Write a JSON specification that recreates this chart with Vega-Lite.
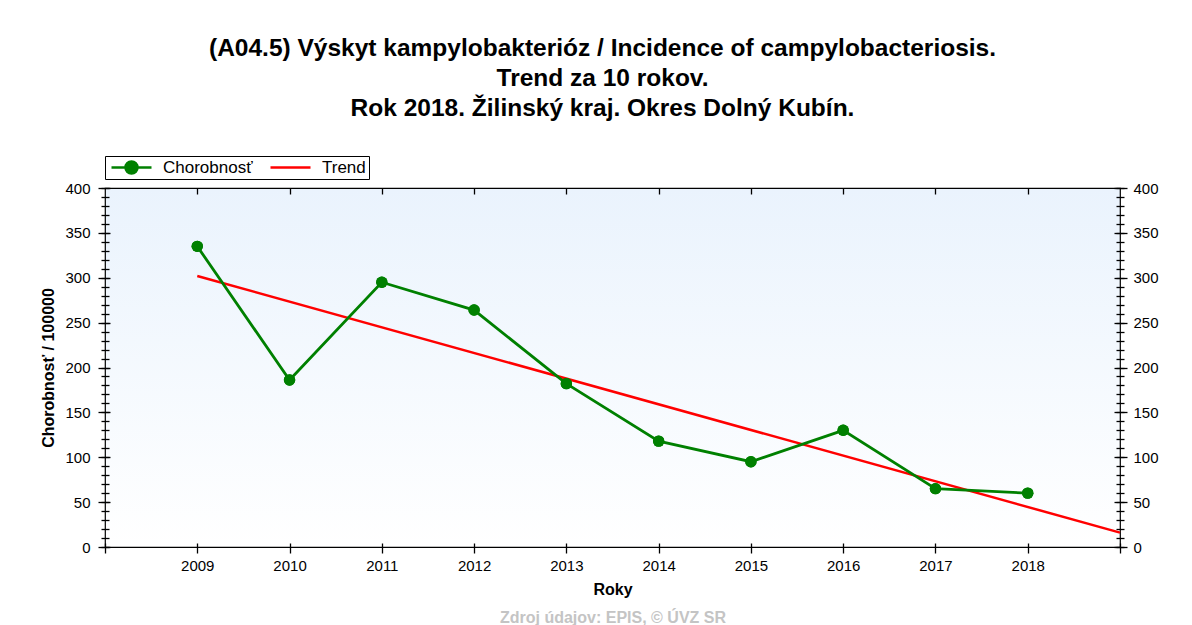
{
  "$schema": "https://vega.github.io/schema/vega-lite/v6.json",
  "width": 1015,
  "height": 359,
  "autosize": {"type": "none"},
  "padding": {"left": 105, "top": 188, "right": 72, "bottom": 78},
  "background": "white",
  "title": {
    "text": ["(A04.5) Výskyt kampylobakterióz / Incidence of campylobacteriosis.", "Trend za 10 rokov.", "Rok 2018. Žilinský kraj. Okres Dolný Kubín."],
    "fontSize": 24.5,
    "fontWeight": "bold",
    "font": "Liberation Sans",
    "color": "black",
    "lineHeight": 30,
    "anchor": "middle",
    "frame": "group",
    "dx": -10,
    "offset": 34
  },
  "datasets": {
    "incidence": [
      {"rok": 2009, "hodnota": 335, "seria": "Chorobnosť"},
      {"rok": 2010, "hodnota": 186, "seria": "Chorobnosť"},
      {"rok": 2011, "hodnota": 295, "seria": "Chorobnosť"},
      {"rok": 2012, "hodnota": 264, "seria": "Chorobnosť"},
      {"rok": 2013, "hodnota": 182, "seria": "Chorobnosť"},
      {"rok": 2014, "hodnota": 118, "seria": "Chorobnosť"},
      {"rok": 2015, "hodnota": 95, "seria": "Chorobnosť"},
      {"rok": 2016, "hodnota": 130, "seria": "Chorobnosť"},
      {"rok": 2017, "hodnota": 65, "seria": "Chorobnosť"},
      {"rok": 2018, "hodnota": 60, "seria": "Chorobnosť"}
    ],
    "trend": [
      {"rok": 2009, "hodnota": 302, "seria": "Trend"},
      {"rok": 2019, "hodnota": 16, "seria": "Trend"}
    ]
  },
  "resolve": {"axis": {"x": "independent", "y": "independent"}},
  "layer": [
    {
      "data": {"name": "trend"},
      "mark": {"type": "line", "strokeWidth": 2.5, "clip": false},
      "encoding": {
        "x": {
          "field": "rok", "type": "quantitative",
          "scale": {"domain": [2008, 2019], "nice": false, "zero": false},
          "axis": {
            "orient": "bottom", "labels": false, "ticks": false, "domain": false,
            "title": "Zdroj údajov: EPIS, © ÚVZ SR",
            "titleColor": "#c4c4c4", "titleFontSize": 16, "titleFontWeight": "bold",
            "titlePadding": 62
          }
        },
        "y": {
          "field": "hodnota", "type": "quantitative",
          "scale": {"domain": [0, 400], "nice": false},
          "axis": {
            "orient": "right",
            "values": [0,50,100,150,200,250,300,350,400],
            "offset": -6,
            "tickSize": 13,
            "labelPadding": 6,
            "domain": false,
            "title": null
          }
        },
        "color": {
          "field": "seria", "type": "nominal",
          "scale": {"domain": ["Chorobnosť", "Trend"], "range": ["#008000", "#ff0000"]}
        }
      }
    },
    {
      "data": {"name": "incidence"},
      "mark": {"type": "line", "strokeWidth": 2.8},
      "encoding": {
        "x": {
          "field": "rok", "type": "quantitative",
          "scale": {"domain": [2008, 2019], "nice": false, "zero": false},
          "axis": {
            "orient": "bottom",
            "values": [2008,2009,2010,2011,2012,2013,2014,2015,2016,2017,2018,2019],
            "format": "d",
            "labelExpr": "datum.value == 2008 || datum.value == 2019 ? '' : datum.label",
            "labelOverlap": false,
            "offset": -4,
            "tickSize": 10,
            "labelPadding": 5,
            "domain": false,
            "title": "Roky",
            "titleFontSize": 16,
            "titleFontWeight": "bold",
            "titlePadding": 8
          }
        },
        "y": {
          "field": "hodnota", "type": "quantitative",
          "scale": {"domain": [0, 400], "nice": false},
          "axis": {
            "orient": "left",
            "values": [0,50,100,150,200,250,300,350,400],
            "offset": -5,
            "tickSize": 12,
            "labelPadding": 8,
            "domain": false,
            "title": "Chorobnosť / 100000",
            "titleFontSize": 16,
            "titleFontWeight": "bold",
            "titlePadding": 8
          }
        },
        "color": {
          "field": "seria", "type": "nominal",
          "scale": {"domain": ["Chorobnosť", "Trend"], "range": ["#008000", "#ff0000"]},
          "legend": {
            "orient": "none",
            "legendX": 0,
            "legendY": -32,
            "direction": "horizontal",
            "columns": 2,
            "gridAlign": "all",
            "title": null,
            "strokeColor": "black",
            "fillColor": "white",
            "padding": 3,
            "labelFontSize": 17,
            "labelColor": "black",
            "labelFont": "Liberation Sans",
            "symbolSize": 1600,
            "symbolStrokeWidth": 2.5,
            "symbolOffset": 2,
            "labelOffset": 10,
            "columnPadding": 14,
            "clipHeight": 17,
            "encoding": {
              "symbols": {
                "shape": {"condition": {"test": "datum.value === 'Trend'", "value": "M-1,0L1,0"}, "value": "M-1,0L1,0M-0.3,0A0.3,0.3,0,1,1,0.3,0A0.3,0.3,0,1,1,-0.3,0Z"},
                "fill": {"condition": {"test": "datum.value === 'Trend'", "value": "transparent"}, "value": "#008000"},
                "stroke": {"condition": {"test": "datum.value === 'Trend'", "value": "#ff0000"}, "value": "#008000"},
                "opacity": {"value": 1}
              }
            }
          }
        }
      }
    },
    {
      "data": {"name": "incidence"},
      "mark": {"type": "point", "filled": true, "size": 130, "opacity": 1},
      "encoding": {
        "x": {
          "field": "rok", "type": "quantitative",
          "scale": {"domain": [2008, 2019], "nice": false, "zero": false},
          "axis": {
            "orient": "top",
            "values": [2009,2010,2011,2012,2013,2014,2015,2016,2017,2018],
            "labels": false,
            "domain": false,
            "offset": -6,
            "tickSize": 6,
            "title": null
          }
        },
        "y": {
          "field": "hodnota", "type": "quantitative",
          "scale": {"domain": [0, 400], "nice": false},
          "axis": {
            "orient": "left",
            "values": [0,10,20,30,40,50,60,70,80,90,100,110,120,130,140,150,160,170,180,190,200,210,220,230,240,250,260,270,280,290,300,310,320,330,340,350,360,370,380,390,400],
            "labels": false,
            "domain": false,
            "offset": -4,
            "tickSize": 8,
            "title": null
          }
        },
        "color": {
          "field": "seria", "type": "nominal",
          "scale": {"domain": ["Chorobnosť", "Trend"], "range": ["#008000", "#ff0000"]}
        }
      }
    },
    {
      "data": {"name": "incidence"},
      "mark": {"type": "point", "filled": true, "size": 130, "opacity": 1},
      "encoding": {
        "x": {
          "field": "rok", "type": "quantitative",
          "scale": {"domain": [2008, 2019], "nice": false, "zero": false},
          "axis": null
        },
        "y": {
          "field": "hodnota", "type": "quantitative",
          "scale": {"domain": [0, 400], "nice": false},
          "axis": {
            "orient": "right",
            "values": [0,10,20,30,40,50,60,70,80,90,100,110,120,130,140,150,160,170,180,190,200,210,220,230,240,250,260,270,280,290,300,310,320,330,340,350,360,370,380,390,400],
            "labels": false,
            "domain": false,
            "offset": -4,
            "tickSize": 8,
            "title": null
          }
        },
        "color": {
          "field": "seria", "type": "nominal",
          "scale": {"domain": ["Chorobnosť", "Trend"], "range": ["#008000", "#ff0000"]}
        }
      }
    }
  ],
  "config": {
    "font": "Liberation Sans",
    "view": {
      "stroke": "black",
      "strokeWidth": 1.2,
      "fill": {
        "gradient": "linear",
        "x1": 0, "y1": 0, "x2": 0, "y2": 1,
        "stops": [{"offset": 0, "color": "#eaf3fd"}, {"offset": 1, "color": "#ffffff"}]
      }
    },
    "axis": {
      "grid": false,
      "tickColor": "black",
      "tickWidth": 1.3,
      "labelFontSize": 15,
      "labelColor": "black",
      "labelFont": "Liberation Sans",
      "titleColor": "black",
      "titleFont": "Liberation Sans"
    }
  }
}
